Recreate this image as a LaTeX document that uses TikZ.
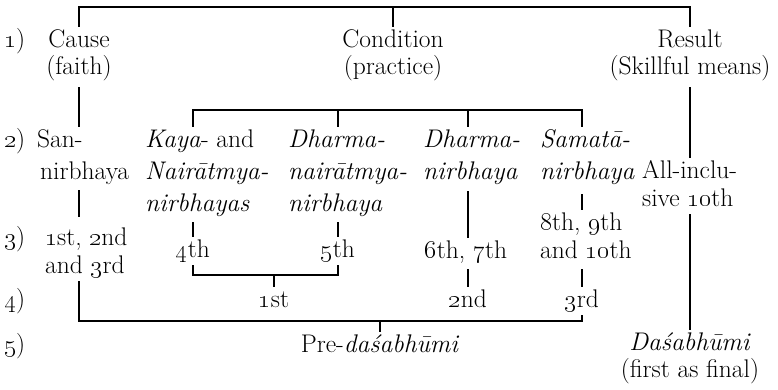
\documentclass[tikz,border=0pt]{standalone}
\usepackage{fix-cm}
\newcommand\osn[1]{\oldstylenums{#1}}
\tikzset{
  t/.style={inner xsep=0pt, inner ysep=2pt, text height=18pt, text depth=6pt,
            font=\fontsize{25.5}{28}\selectfont, anchor=base},
  tl/.style={t, anchor=base west},
  ln/.style={line width=1.3pt}
}
\begin{document}
\begin{tikzpicture}[x=1pt,y=-1pt]
\useasboundingbox (0,0) rectangle (778,389);
% level coordinates
\coordinate (ytop) at (0,7);
\coordinate (ysub) at (0,110);
\coordinate (ylow) at (0,275);
\coordinate (ybot) at (0,321);
% row labels
\node[tl] (r1) at (4,47) {\osn{1})};
\node[tl] (r2) at (4,147) {\osn{2})};
\node[tl] (r3) at (4,245) {\osn{3})};
\node[tl] (r4) at (4,307) {\osn{4})};
\node[tl] (r5) at (4,352) {\osn{5})};
% row 1
\node[t] (cause) at (79,47) {Cause};
\node[t] (faith) at (79,74) {(faith)};
\node[t] (cond) at (393,47) {Condition};
\node[t] (pract) at (393,74) {(practice)};
\node[t] (result) at (690,47) {Result};
\node[t] (skill) at (690,74) {(Skillful means)};
% row 2
\node[tl] (san) at (37,147) {San-};
\node[tl] (sannir) at (40,179) {nirbhaya};
\node[tl] (kaya) at (145,147) {\textit{Kaya}- and};
\node[tl] (nair) at (145,179) {\textit{Nairātmya-}};
\node[tl] (nirbs) at (145,211) {\textit{nirbhayas}};
\node[tl] (dha) at (288,147) {\textit{Dharma-}};
\node[tl] (dhb) at (288,179) {\textit{nairātmya-}};
\node[tl] (dhc) at (288,211) {\textit{nirbhaya}};
\node[tl] (dna) at (423,147) {\textit{Dharma-}};
\node[tl] (dnb) at (423,179) {\textit{nirbhaya}};
\node[tl] (sam) at (540,147) {\textit{Samatā-}};
\node[tl] (samb) at (540,179) {\textit{nirbhaya}};
\node[tl] (allinc) at (642,178) {All-inclu-};
\node[tl] (sive) at (642,206) {sive \osn{10}th};
% row 3
\node[tl] (st) at (45,245) {\osn{1}st, \osn{2}nd};
\node[tl] (and3) at (45,273) {and \osn{3}rd};
\node[t] (four) at (193,257) {\osn{4}th};
\node[t] (five) at (338,257) {\osn{5}th};
\node[t] (sixseven) at (466,258) {\osn{6}th, \osn{7}th};
\node[tl] (eight) at (540,230) {\osn{8}th, \osn{9}th};
\node[tl] (andten) at (540,258) {and \osn{10}th};
% row 4
\node[t] (first) at (274,307) {\osn{1}st};
\node[t] (second) at (468,307) {\osn{2}nd};
\node[t] (third) at (582,307) {\osn{3}rd};
% row 5
\node[t] (pre) at (380,352) {Pre-\textit{daśabhūmi}};
\node[t] (dasa) at (690,350) {\textit{Daśabhūmi}};
\node[t] (final) at (690,377) {(first as final)};
% connectors
\draw[ln] (cause) -- (cause |- ytop) -| (result);
\draw[ln] (cond |- ytop) -- (cond);
\draw[ln, shorten <=5pt] (faith) -- (faith |- san.north);
\draw[ln, shorten <=3pt, shorten >=8pt] (faith |- sannir.south) -- (faith |- st.north);
\draw[ln] (faith |- and3.south) -- (faith |- ybot) -| (third);
\draw[ln] (pre |- ybot) -- (pre);
\draw[ln] (four |- kaya.north) -- (four |- ysub) -| (third |- sam.north);
\draw[ln] (five |- ysub) -- (five |- dha.north);
\draw[ln] (second |- ysub) -- (second |- dna.north);
\draw[ln, shorten <=3pt] (four |- nirbs.south) -- (four);
\draw[ln, shorten <=3pt] (five |- dhc.south) -- (five);
\draw[ln] (four) -- (four |- ylow) -| (five);
\draw[ln] (first |- ylow) -- (first);
\draw[ln, shorten <=4pt] (second |- dnb.south) -- (second |- sixseven.north);
\draw[ln, shorten <=7pt] (third |- samb.south) -- (third |- eight.north);
\draw[ln, shorten <=3pt] (second |- sixseven.south) -- (second);
\draw[ln, shorten <=3pt] (third |- andten.south) -- (third);
\draw[ln, shorten <=5pt] (dasa |- skill.south) -- (dasa |- allinc.north);
\draw[ln] (dasa |- sive.south) -- (dasa);
\end{tikzpicture}
\end{document}
